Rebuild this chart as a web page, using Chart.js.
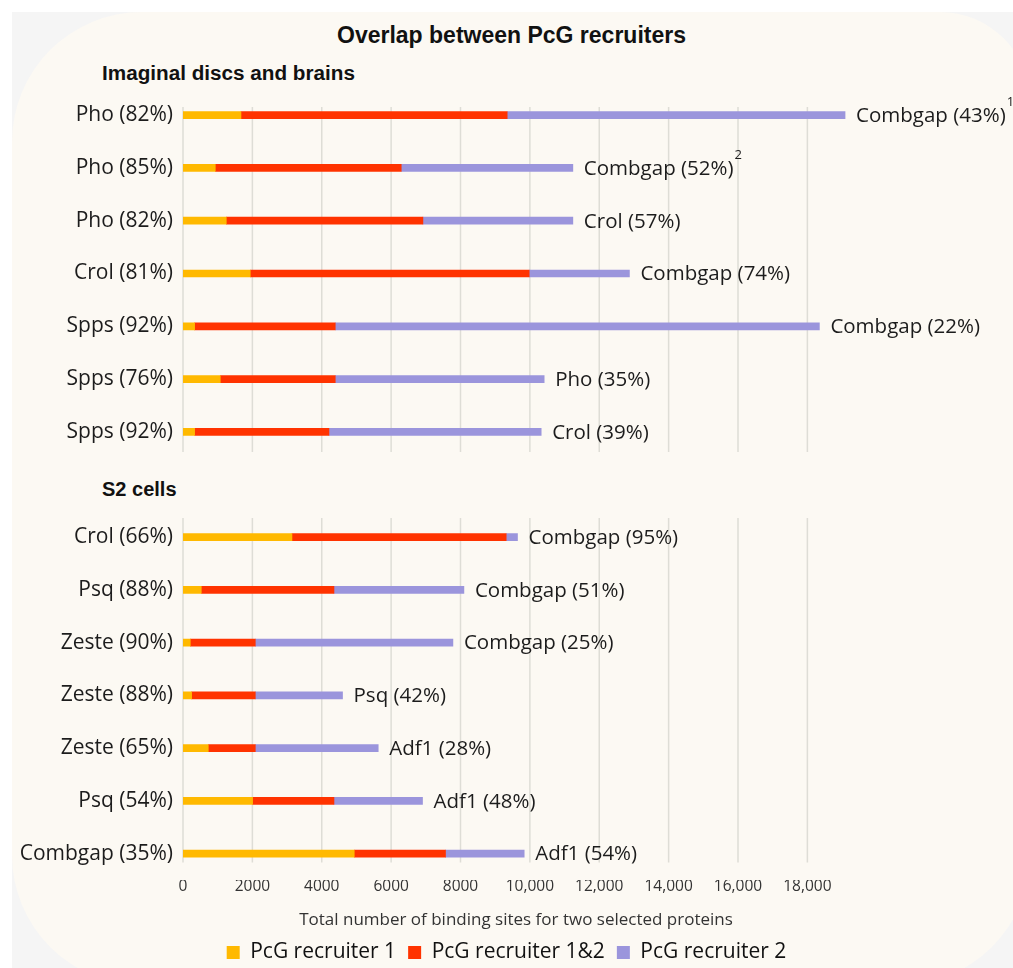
<!DOCTYPE html>
<html>
<head>
<meta charset="utf-8">
<script src="https://cdn.jsdelivr.net/npm/chart.js@4.4.0/dist/chart.umd.min.js"></script>
<style>
  html, body { margin: 0; padding: 0; background: #ffffff; }
  #page { position: relative; width: 1013px; height: 968px; overflow: hidden; }
  #grey { position: absolute; left: 12px; top: 12px; right: 0; bottom: 0; background: #f5f5f5; }
  #cream { position: absolute; left: 12px; top: 12px; width: 1018px; height: 973px;
           background: #fcf9f3; border-radius: 130px 90px 130px 130px; }
  .head { position: absolute; font-family: "Liberation Sans", Arial, sans-serif; font-weight: bold; color: #111; white-space: nowrap; }
  canvas { position: absolute; left: 0; }
</style>
</head>
<body>
<div id="page">
  <div id="grey"></div>
  <div id="cream"></div>
  <div class="head" style="left:5px; width:1013px; text-align:center; top:21px; font-size:23px; line-height:28px;">Overlap between PcG recruiters</div>
  <div class="head" style="left:102px; top:60px; font-size:20.7px; line-height:25px;">Imaginal discs and brains</div>
  <div class="head" style="left:102px; top:477px; font-size:20px; line-height:24px;">S2 cells</div>
  <canvas id="discs" width="1013" height="470" style="top:0"></canvas>
  <canvas id="s2" width="1013" height="503" style="top:470px"></canvas>
</div>
<script>
// imaginal discs and brains
const discsLabels = ['Pho (82%)', 'Pho (85%)', 'Pho (82%)', 'Crol (81%)', 'Spps (92%)', 'Spps (76%)', 'Spps (92%)'];
const discsPartners = ['Combgap (43%)', 'Combgap (52%)', 'Crol (57%)', 'Combgap (74%)', 'Combgap (22%)', 'Pho (35%)', 'Crol (39%)'];
const discsNotes = ['1', '2', '', '', '', '', ''];
const discsOnly1 = [1671, 931, 1248, 1939, 334, 1075, 334];
const discsBoth = [7675, 5360, 5668, 8041, 4055, 3314, 3873];
const discsOnly2 = [9740, 4948, 4323, 2890, 13957, 6023, 6119];

// S2 cells
const s2Labels = ['Crol (66%)', 'Psq (88%)', 'Zeste (90%)', 'Zeste (88%)', 'Zeste (65%)', 'Psq (54%)', 'Combgap (35%)'];
const s2Partners = ['Combgap (95%)', 'Combgap (51%)', 'Combgap (25%)', 'Psq (42%)', 'Adf1 (28%)', 'Adf1 (48%)', 'Adf1 (54%)'];
const s2Notes = ['', '', '', '', '', '', ''];
const s2Only1 = [3141, 527, 210, 248, 729, 2006, 4937];
const s2Both = [6176, 3825, 1874, 1836, 1355, 2346, 2631];
const s2Only2 = [326, 3746, 5697, 2515, 3544, 2553, 2268];

const seriesNames = ['PcG recruiter 1', 'PcG recruiter 1&2', 'PcG recruiter 2'];
const seriesColors = ['#ffb900', '#ff3300', '#9b95dc'];
const xTickValues = [0, 2000, 4000, 6000, 8000, 10000, 12000, 14000, 16000, 18000];
const xMax = 19200;
const axisTitle = 'Total number of binding sites for two selected proteins';

const gridCol = '#deddd6';
const textCol = '#1c1c1c';

Chart.defaults.font.family = '"Open Sans", "Liberation Sans", sans-serif';
Chart.defaults.color = textCol;
Chart.defaults.animation = false;

// writes the partner name at the end of each bar
const endLabels = {
    id: 'endLabels',
    afterDatasetsDraw(chart, args, opts) {
        const ctx = chart.ctx;
        const meta = chart.getDatasetMeta(chart.data.datasets.length - 1);
        ctx.save();
        ctx.fillStyle = textCol;
        ctx.textBaseline = 'middle';
        meta.data.forEach((bar, i) => {
            ctx.font = '20.5px "Open Sans", sans-serif';
            const x = bar.x + 11;
            ctx.fillText(opts.labels[i], x, bar.y + 1);
            if (opts.notes[i]) {
                const w = ctx.measureText(opts.labels[i]).width;
                ctx.font = '13px "Open Sans", sans-serif';
                ctx.fillText(opts.notes[i], x + w + 1, bar.y - 13);
            }
        });
        ctx.restore();
    }
};

// vertical gridlines, only over the rows of the panel
const rowGrid = {
    id: 'rowGrid',
    beforeDatasetsDraw(chart, args, opts) {
        const ctx = chart.ctx;
        const xs = chart.scales.x;
        const bars = chart.getDatasetMeta(0).data;
        const y0 = bars[0].y - opts.above;
        const y1 = bars[bars.length - 1].y + opts.below;
        ctx.save();
        ctx.strokeStyle = gridCol;
        ctx.lineWidth = 1.5;
        xs.ticks.forEach(t => {
            const x = xs.getPixelForValue(t.value);
            ctx.beginPath();
            ctx.moveTo(x, y0);
            ctx.lineTo(x, y1);
            ctx.stroke();
        });
        ctx.restore();
    }
};

function makeDatasets(a, b, c) {
    return [a, b, c].map((d, k) => ({
        label: seriesNames[k],
        data: d,
        backgroundColor: seriesColors[k],
        borderWidth: 0,
        barThickness: 7
    }));
}

function tickText(v) {
    return v >= 10000 ? v.toLocaleString('en-US') : String(v);
}

function makeChart(id, labels, sets, partners, notes, bottom) {
    return new Chart(id, {
        type: 'bar',
        data: { labels: labels, datasets: sets },
        options: {
            indexAxis: 'y',
            responsive: false,
            layout: { padding: bottom ? { top: 40.7, right: 0, bottom: 0, left: 0 } : { top: 88.65, right: 0, bottom: 11.65, left: 0 } },
            scales: {
                x: {
                    stacked: true,
                    min: 0,
                    max: xMax,
                    afterBuildTicks: s => { s.ticks = xTickValues.map(v => ({ value: v })); },
                    ticks: { display: bottom, autoSkip: false, maxRotation: 0, padding: -3,
                             font: { size: 15.5 }, color: '#333', callback: tickText },
                    grid: { display: false, drawTicks: false },
                    border: { display: false },
                    title: { display: bottom, text: axisTitle, font: { size: 17 }, color: '#333', padding: { top: 0, bottom: 0 } },
                    afterFit: s => { s.height = bottom ? 50 : 0; }
                },
                y: {
                    stacked: true,
                    ticks: { font: { size: 21 }, color: textCol, padding: 10 },
                    grid: { display: false, drawTicks: false },
                    border: { display: false },
                    afterFit: s => { s.width = 183; s.paddingTop = 0; s.paddingBottom = 0; }
                },
                // empty box on the right, keeps room for the end labels
                yRight: {
                    type: 'category',
                    position: 'right',
                    ticks: { display: false },
                    grid: { display: false, drawTicks: false },
                    border: { display: false },
                    afterFit: s => { s.width = 164; s.paddingTop = 0; s.paddingBottom = 0; }
                }
            },
            plugins: {
                legend: {
                    display: bottom,
                    position: 'bottom',
                    labels: { boxWidth: 13, boxHeight: 13, padding: 12, font: { size: 21 }, color: '#111' }
                },
                tooltip: { enabled: false },
                endLabels: { labels: partners, notes: notes },
                rowGrid: bottom ? { above: 19, below: 9 } : { above: 8, below: 20 }
            }
        },
        plugins: [rowGrid, endLabels]
    });
}

makeChart('discs', discsLabels, makeDatasets(discsOnly1, discsBoth, discsOnly2), discsPartners, discsNotes, false);
makeChart('s2', s2Labels, makeDatasets(s2Only1, s2Both, s2Only2), s2Partners, s2Notes, true);
</script>
</body>
</html>
